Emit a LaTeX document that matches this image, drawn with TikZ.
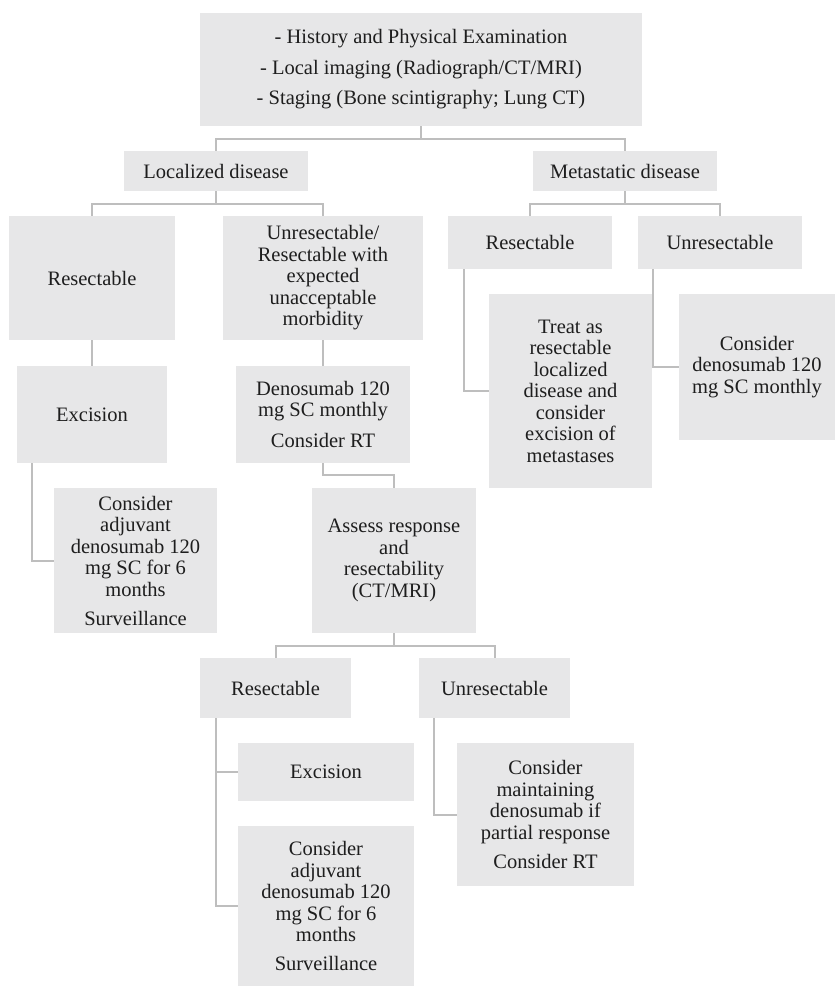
\documentclass[tikz,border=0pt]{standalone}
\usepackage{fontspec}
\setmainfont{Liberation Serif}
\definecolor{boxgray}{RGB}{231,231,232}
\definecolor{linegray}{RGB}{190,190,190}
\definecolor{inkgray}{RGB}{30,30,30}
\begin{document}
\begin{tikzpicture}[x=1pt,y=1pt,
    box/.style={fill=boxgray, inner sep=0pt, align=center, text=inkgray,
        font=\fontsize{20.5}{21.5}\selectfont},
    link/.style={draw=linegray, line width=2pt}]
    \useasboundingbox (0,0) rectangle (835,-986);
    \node [box, minimum width=442pt, minimum height=113pt] (hist) at (421,-69.5) {- History and Physical Examination\\[9pt]- Local imaging (Radiograph/CT/MRI)\\[9pt]- Staging (Bone scintigraphy; Lung CT)};
    \node [box, minimum width=184pt, minimum height=40pt] (loc) at (216,-171) {Localized disease};
    \node [box, minimum width=184pt, minimum height=40pt] (met) at (625,-171) {Metastatic disease};
    \node [box, minimum width=166pt, minimum height=124pt] (lres) at (92,-278) {Resectable};
    \node [box, minimum width=200pt, minimum height=124pt] (lunr) at (323,-278) {Unresectable/\\Resectable with\\expected\\unacceptable\\morbidity};
    \node [box, minimum width=150pt, minimum height=97pt] (exc) at (92,-414.5) {Excision};
    \node [box, minimum width=174pt, minimum height=97pt] (den) at (323,-414.5) {Denosumab 120\\mg SC monthly\\[9.5pt]Consider RT};
    \node [box, minimum width=163pt, minimum height=145pt] (adj) at (135.5,-560.5) {Consider\\adjuvant\\denosumab 120\\mg SC for 6\\months\\[7.5pt]Surveillance};
    \node [box, minimum width=164pt, minimum height=145pt] (assess) at (394,-560.5) {Assess response\\and\\resectability\\(CT/MRI)};
    \node [box, minimum width=151pt, minimum height=60pt] (bres) at (275.5,-688) {Resectable};
    \node [box, minimum width=151pt, minimum height=60pt] (bunr) at (494.5,-688) {Unresectable};
    \node [box, minimum width=176pt, minimum height=58pt] (bexc) at (326,-772) {Excision};
    \node [box, minimum width=176pt, minimum height=160pt] (badj) at (326,-906) {Consider\\adjuvant\\denosumab 120\\mg SC for 6\\months\\[7.5pt]Surveillance};
    \node [box, minimum width=177pt, minimum height=143pt] (bmain) at (545.5,-814.5) {Consider\\maintaining\\denosumab if\\partial response\\[7.5pt]Consider RT};
    \node [box, minimum width=164pt, minimum height=53pt] (mres) at (530,-242.5) {Resectable};
    \node [box, minimum width=164pt, minimum height=53pt] (munr) at (720,-242.5) {Unresectable};
    \node [box, minimum width=163pt, minimum height=194pt] (treat) at (570.5,-391) {Treat as\\resectable\\localized\\disease and\\consider\\excision of\\metastases};
    \node [box, minimum width=156pt, minimum height=146pt] (mden) at (757,-367) {Consider\\denosumab 120\\mg SC monthly};
    \draw [link] (hist.south) -- ++(0,-13) -| (loc.north);
    \draw [link] (hist.south) -- ++(0,-13) -| (met.north);
    \draw [link] (loc.south) -- ++(0,-13) -| (lres.north);
    \draw [link] (loc.south) -- ++(0,-13) -| (lunr.north);
    \draw [link] (lres.south) -- (exc.north);
    \draw [link] (lunr.south) -- (den.north);
    \draw [link] ([xshift=15pt]exc.south west) |- (adj.west);
    \draw [link] (den.south) -- ++(0,-12) -| (assess.north);
    \draw [link] (assess.south) -- ++(0,-13) -| (bres.north);
    \draw [link] (assess.south) -- ++(0,-13) -| (bunr.north);
    \draw [link] ([xshift=16pt]bres.south west) |- (bexc.west);
    \draw [link] ([xshift=16pt]bres.south west) |- (badj.west);
    \draw [link] ([xshift=15pt]bunr.south west) |- (bmain.west);
    \draw [link] (met.south) -- ++(0,-13) -| (mres.north);
    \draw [link] (met.south) -- ++(0,-13) -| (munr.north);
    \draw [link] ([xshift=16pt]mres.south west) |- (treat.west);
    \draw [link] ([xshift=15pt]munr.south west) |- (mden.west);
\end{tikzpicture}
\end{document}
